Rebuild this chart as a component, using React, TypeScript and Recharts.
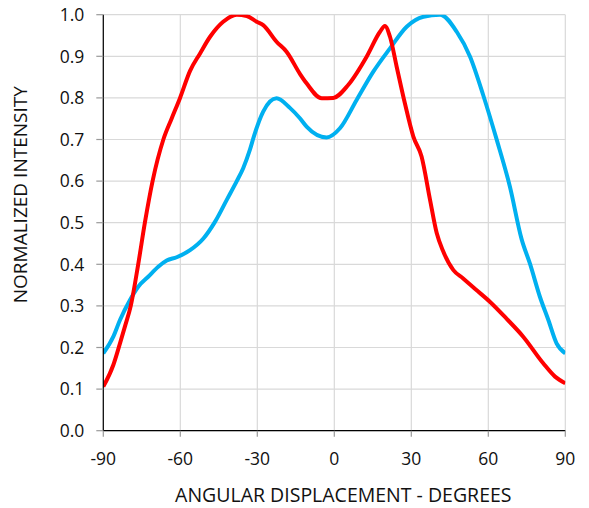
import React from 'react';
import { LineChart, Line, XAxis, YAxis, CartesianGrid, Label } from 'recharts';

const xTicks = [-90, -60, -30, 0, 30, 60, 90];
const yTicks = [0, 0.1, 0.2, 0.3, 0.4, 0.5, 0.6, 0.7, 0.8, 0.9, 1.0];

const redSeries = [
  { deg: -90, v: 0.106 }, { deg: -86.1, v: 0.158 }, { deg: -83.5, v: 0.21 }, { deg: -81.5, v: 0.252 },
  { deg: -79.3, v: 0.3 }, { deg: -76.4, v: 0.4 }, { deg: -73.8, v: 0.5 }, { deg: -70.8, v: 0.6 },
  { deg: -66.6, v: 0.7 }, { deg: -63.4, v: 0.75 }, { deg: -60.1, v: 0.8 }, { deg: -56.2, v: 0.865 },
  { deg: -52.3, v: 0.907 }, { deg: -48.4, v: 0.947 }, { deg: -43.3, v: 0.983 }, { deg: -38, v: 1.0 },
  { deg: -34.1, v: 0.997 }, { deg: -30.2, v: 0.983 }, { deg: -27.7, v: 0.975 }, { deg: -22.5, v: 0.935 },
  { deg: -18.6, v: 0.911 }, { deg: -13.4, v: 0.858 }, { deg: -10.8, v: 0.835 }, { deg: -4.9, v: 0.799 },
  { deg: -0.4, v: 0.8 }, { deg: 5.4, v: 0.831 }, { deg: 12.6, v: 0.899 }, { deg: 17.8, v: 0.959 },
  { deg: 19.7, v: 0.973 }, { deg: 21.7, v: 0.947 }, { deg: 24.3, v: 0.875 }, { deg: 27.5, v: 0.787 },
  { deg: 30.8, v: 0.707 }, { deg: 34, v: 0.659 }, { deg: 37.3, v: 0.555 }, { deg: 39.9, v: 0.475 },
  { deg: 42.5, v: 0.43 }, { deg: 46.4, v: 0.386 }, { deg: 50.2, v: 0.366 }, { deg: 55, v: 0.34 },
  { deg: 60.6, v: 0.31 }, { deg: 67, v: 0.27 }, { deg: 73.6, v: 0.226 }, { deg: 81.4, v: 0.162 },
  { deg: 86, v: 0.13 }, { deg: 90, v: 0.114 },
];

const blueSeries = [
  { deg: -90, v: 0.186 }, { deg: -86.1, v: 0.226 }, { deg: -83.5, v: 0.266 }, { deg: -79.6, v: 0.314 },
  { deg: -76.4, v: 0.346 }, { deg: -72.5, v: 0.37 }, { deg: -68.6, v: 0.394 }, { deg: -65.3, v: 0.409 },
  { deg: -61.4, v: 0.417 }, { deg: -56.2, v: 0.434 }, { deg: -51, v: 0.462 }, { deg: -46.5, v: 0.502 },
  { deg: -41.9, v: 0.555 }, { deg: -38, v: 0.6 }, { deg: -35.5, v: 0.631 }, { deg: -32.9, v: 0.675 },
  { deg: -31.2, v: 0.71 }, { deg: -27.7, v: 0.767 }, { deg: -22.5, v: 0.799 }, { deg: -17.3, v: 0.776 },
  { deg: -13.4, v: 0.751 }, { deg: -10.8, v: 0.731 }, { deg: -3, v: 0.705 }, { deg: 2.2, v: 0.727 },
  { deg: 8.7, v: 0.795 }, { deg: 15.2, v: 0.863 }, { deg: 21.7, v: 0.919 }, { deg: 28.2, v: 0.971 },
  { deg: 34.7, v: 0.995 }, { deg: 41.2, v: 1.0 }, { deg: 47.7, v: 0.959 }, { deg: 52.9, v: 0.899 },
  { deg: 58, v: 0.807 }, { deg: 63.3, v: 0.699 }, { deg: 68.4, v: 0.587 }, { deg: 73, v: 0.46 },
  { deg: 76.2, v: 0.402 }, { deg: 80.1, v: 0.322 }, { deg: 83.4, v: 0.266 }, { deg: 86.6, v: 0.21 },
  { deg: 90, v: 0.186 },
];

const FONT = '"Open Sans", sans-serif';

const XTitle = (props: any) => {
  const vb = props.viewBox || {};
  return (
    <text x={vb.x + vb.width / 2 + 9} y={vb.y + vb.height - 6.5} textAnchor="middle"
      fontFamily={FONT} fontSize={19.5} fill="#111">
      ANGULAR DISPLACEMENT - DEGREES
    </text>
  );
};

const YTitle = (props: any) => {
  const vb = props.viewBox || {};
  const cx = 26.7;
  const cy = vb.y + vb.height / 2 - 28;
  return (
    <text x={cx} y={cy} transform={`rotate(-90 ${cx} ${cy})`} textAnchor="middle"
      fontFamily={FONT} fontSize={19} fill="#111">
      NORMALIZED INTENSITY
    </text>
  );
};

export default function App() {
  return (
    <div style={{ position: 'fixed', top: 0, left: 0, width: 589, height: 508, background: '#fff' }}>
      <LineChart width={589} height={508} margin={{ top: 14.7, right: 23.7, bottom: 0, left: 0 }}>
        <CartesianGrid stroke="#d9d9d9" strokeWidth={1.2} vertical horizontal
          verticalValues={xTicks} horizontalValues={yTicks} />
        <XAxis type="number" dataKey="deg" domain={[-90, 90]} ticks={xTicks} height={77.3}
          axisLine={{ stroke: '#000', strokeWidth: 1.2 }} tickLine={{ stroke: '#999', strokeWidth: 1.2 }}
          tickSize={6} tickMargin={16} interval={0}
          tick={{ fill: '#111', fontSize: 17.5, fontFamily: FONT }} allowDataOverflow>
          <Label content={<XTitle />} />
        </XAxis>
        <YAxis type="number" domain={[0, 1]} ticks={yTicks} width={103.3}
          axisLine={{ stroke: '#000', strokeWidth: 1.2 }} tickLine={{ stroke: '#999', strokeWidth: 1.2 }}
          tickSize={7} tickMargin={12} interval={0}
          tickFormatter={(v: number) => v.toFixed(1)}
          tick={{ fill: '#111', fontSize: 17.5, fontFamily: FONT }} allowDataOverflow>
          <Label content={<YTitle />} />
        </YAxis>
        <Line data={blueSeries} dataKey="v" type="monotone" stroke="#00b0f0" strokeWidth={4}
          dot={false} activeDot={false} isAnimationActive={false} />
        <Line data={redSeries} dataKey="v" type="monotone" stroke="#ff0000" strokeWidth={4}
          dot={false} activeDot={false} isAnimationActive={false} />
      </LineChart>
    </div>
  );
}
